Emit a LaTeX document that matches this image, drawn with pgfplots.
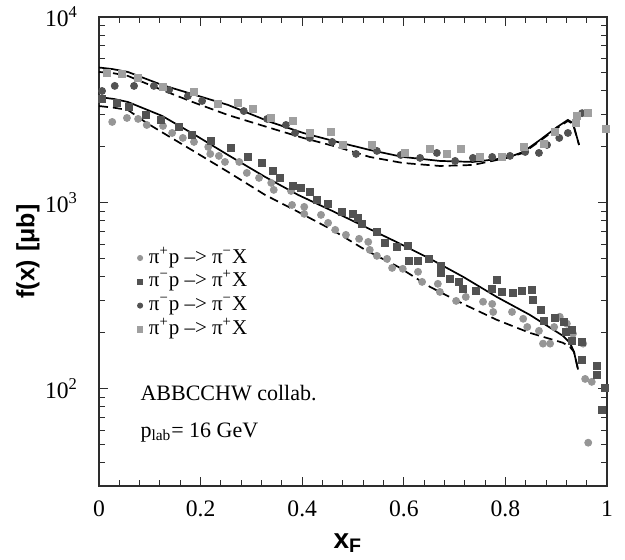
\documentclass[border=0pt]{standalone}
\usepackage{fontspec}
\setmainfont{Liberation Serif}
\newfontfamily\lsans{Liberation Sans}
\usepackage{pgfplots}
\pgfplotsset{compat=1.18}
\definecolor{ltc}{RGB}{150,150,150}
\definecolor{lts}{RGB}{160,160,160}
\definecolor{dkg}{RGB}{82,82,82}
\definecolor{frm}{RGB}{45,45,45}
\begin{document}
\begin{tikzpicture}
\path[use as bounding box] (-49.5pt,-36.5pt) rectangle (263pt,243pt);
\begin{axis}[
  scale only axis, width=254pt, height=234.5pt,
  ymode=log, xmin=0, xmax=1, ymin=30, ymax=10000,
  xtick={0,0.2,0.4,0.6,0.8,1}, xticklabels={0,0.2,0.4,0.6,0.8,1},
  minor x tick num=4,
  ytick={100,1000,10000},
  yticklabels={10\textsuperscript{2},10\textsuperscript{3},10\textsuperscript{4}},
  minor ytick={40,50,60,70,80,90,200,300,400,500,600,700,800,900,2000,3000,4000,5000,6000,7000,8000,9000},
  tick align=inside,
  major tick length=4.5pt, minor tick length=3pt,
  axis line style={frm, line width=0.75pt},
  tick style={frm, line width=0.5pt},
  ticklabel style={font=\fontsize{11.8}{13}\selectfont},
  yticklabel style={xshift=-7pt},
  xticklabel style={yshift=-4pt},
  xlabel={\lsans\bfseries x\textsubscript{F}},
  xlabel style={font=\fontsize{14}{16}\selectfont, at={(axis description cs:0.49,-0.133)}, anchor=base},
  ylabel={\lsans\bfseries f(x)\hspace{4pt}[μb]},
  ylabel style={font=\fontsize{12.5}{14}\selectfont, at={(axis description cs:-0.14,0.5)}, anchor=center},
  clip=false,
  legend style={at={(rel axis cs:0.075,0.41)}, anchor=west, draw=none, fill=none,
    font=\fontsize{10.5}{12}\selectfont, inner sep=0pt,
    nodes={inner sep=0.6pt, text height=7.6pt, text depth=2.6pt},
    row sep=0.5pt, column sep=2.5pt},
  legend cell align=left,
  legend image post style={mark size=1.3pt},
]
% theory curves
\addplot[black, line width=0.85pt, forget plot] coordinates {
(0,5350)(0.026,5250)(0.057,5062)(0.124,4310)(0.189,3810)(0.254,3365)(0.337,2726)(0.402,2378)(0.469,2128)(0.533,1927)(0.598,1767)(0.671,1682)(0.736,1661)(0.803,1746)(0.835,1880)(0.868,2180)(0.902,2562)(0.923,2795)(0.933,2690)(0.945,2050)};
\addplot[black, line width=0.85pt, dash pattern=on 4.5pt off 2.5pt, forget plot] coordinates {
(0,5062)(0.026,5000)(0.057,4818)(0.124,4050)(0.189,3450)(0.254,2970)(0.337,2530)(0.402,2236)(0.469,2000)(0.533,1767)(0.598,1640)(0.671,1580)(0.736,1600)(0.803,1746)(0.835,1857)(0.868,2154)(0.902,2530)(0.923,2760)(0.933,2660)(0.945,2050)};
\addplot[black, line width=0.85pt, forget plot] coordinates {
(0,3715)(0.03,3620)(0.057,3490)(0.124,2940)(0.189,2320)(0.254,1810)(0.327,1380)(0.392,1104)(0.459,906)(0.524,743)(0.589,610)(0.652,500)(0.717,400)(0.783,312)(0.848,250)(0.913,193)(0.927,177)(0.935,158)(0.943,127)};
\addplot[black, line width=0.85pt, dash pattern=on 4.5pt off 2.5pt, forget plot] coordinates {
(0,3320)(0.03,3250)(0.057,3160)(0.093,2700)(0.124,2400)(0.189,1880)(0.254,1468)(0.327,1104)(0.392,895)(0.459,716)(0.524,559)(0.589,453)(0.652,353)(0.717,286)(0.783,235)(0.848,200)(0.913,177)(0.927,168)(0.935,158)(0.943,127)};
% pi+ p -> pi- X (light circles)
\addplot[only marks, mark=*, mark size=1.75pt, color=ltc, mark options={fill=ltc, draw=ltc}] coordinates {
(0.026,2726)(0.055,2864)(0.077,2830)(0.094,2626)(0.126,2594)(0.144,2378)(0.165,2236)(0.187,2128)(0.215,2000)(0.219,1834)(0.236,1790)(0.248,1661)(0.276,1661)(0.291,1450)(0.315,1363)(0.339,1281)(0.344,1175)(0.378,1160)(0.380,975)(0.404,952)(0.404,873)(0.437,862)(0.451,781)(0.465,716)(0.486,673)(0.512,641)(0.530,617)(0.533,559)(0.547,519)(0.567,500)(0.577,447)(0.598,442)(0.628,426)(0.636,376)(0.667,367)(0.671,332)(0.703,297)(0.722,312)(0.756,294)(0.774,286)(0.776,259)(0.813,259)(0.835,238)(0.843,215)(0.866,205)(0.874,175)(0.888,175)(0.896,215)(0.907,244)(0.921,224)(0.933,198)(0.953,175)(0.957,113)(0.970,109)(0.963,51.3)};
\addlegendentry{π\textsuperscript{+}p –> π\textsuperscript{−}X}
% pi- p -> pi+ X (dark squares)
\addplot[only marks, mark=square*, mark size=1.75pt, color=dkg, mark options={fill=dkg, draw=dkg}] coordinates {
(0.006,3620)(0.035,3450)(0.059,3280)(0.093,2970)(0.122,2795)(0.157,2562)(0.183,2320)(0.220,2154)(0.260,1975)(0.293,1767)(0.321,1640)(0.343,1486)(0.356,1363)(0.382,1234)(0.398,1204)(0.415,1146)(0.429,1038)(0.451,988)(0.478,895)(0.500,873)(0.510,831)(0.518,771)(0.547,698)(0.563,610)(0.587,580)(0.608,587)(0.610,488)(0.628,488)(0.650,500)(0.673,458)(0.673,420)(0.691,390)(0.709,376)(0.717,345)(0.742,336)(0.774,345)(0.783,385)(0.793,332)(0.815,328)(0.833,336)(0.852,341)(0.854,301)(0.870,266)(0.876,232)(0.898,241)(0.915,229)(0.919,203)(0.931,208)(0.931,181)(0.951,179)(0.951,143)(0.980,133)(0.980,119)(0.996,101)(0.990,77)};
\addlegendentry{π\textsuperscript{−}p –> π\textsuperscript{+}X}
% pi- p -> pi- X (dark circles)
\addplot[only marks, mark=*, mark size=1.75pt, color=dkg, mark options={fill=dkg, draw=dkg}] coordinates {
(0.006,4000)(0.031,4260)(0.069,4260)(0.108,4260)(0.138,4050)(0.175,3760)(0.203,3535)(0.285,3120)(0.331,2830)(0.368,2626)(0.386,2378)(0.415,2236)(0.459,2128)(0.506,1834)(0.547,1904)(0.594,1810)(0.632,1746)(0.665,1857)(0.701,1682)(0.736,1746)(0.774,1767)(0.809,1790)(0.839,1880)(0.866,1857)(0.882,2050)(0.906,2236)(0.923,2378)(0.951,3040)};
\addlegendentry{π\textsuperscript{−}p –> π\textsuperscript{−}X}
% pi+ p -> pi+ X (light squares)
\addplot[only marks, mark=square*, mark size=1.75pt, color=lts, mark options={fill=lts, draw=lts}] coordinates {
(0.016,5000)(0.045,4937)(0.077,4700)(0.126,4205)(0.187,3950)(0.234,3410)(0.274,3450)(0.303,3200)(0.339,2864)(0.382,2760)(0.415,2378)(0.457,2410)(0.480,2050)(0.537,2050)(0.602,1857)(0.652,1951)(0.685,1834)(0.713,1951)(0.750,1767)(0.793,1767)(0.837,2000)(0.876,2077)(0.898,2410)(0.939,2690)(0.941,2930)(0.963,3040)(0.998,2500)};
\addlegendentry{π\textsuperscript{+}p –> π\textsuperscript{+}X}
\node[anchor=base west, font=\fontsize{11}{13}\selectfont, inner sep=0pt] at (rel axis cs:0.081,0.183) {ABBCCHW collab.};
\node[anchor=base west, font=\fontsize{11}{13}\selectfont, inner sep=0pt] at (rel axis cs:0.081,0.104) {p\textsubscript{lab}= 16 GeV};
\end{axis}
\end{tikzpicture}
\end{document}
